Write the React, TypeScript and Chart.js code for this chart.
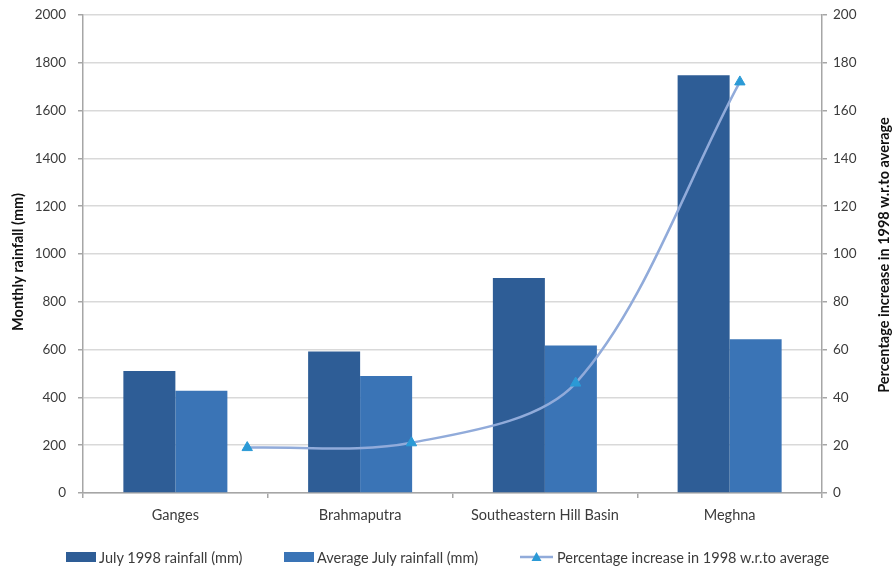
import React, { useEffect, useRef } from "react";
import { Chart, registerables } from "chart.js";

Chart.register(...registerables);

// River basins and their July rainfall figures
const basins = ["Ganges", "Brahmaputra", "Southeastern Hill Basin", "Meghna"];
const july1998 = [510, 592, 900, 1748];
const averageJuly = [428, 490, 617, 643];
const pctIncrease = [19, 21, 46, 172];

// Positions of the percentage series along its own horizontal scale
const linePositions = [1, 2, 3, 4];
const lineScaleMax = 4.5;

const seriesNames = [
  "July 1998 rainfall (mm)",
  "Average July rainfall (mm)",
  "Percentage increase in 1998 w.r.to average",
];
const leftTitle = "Monthly rainfall (mm)";
const rightTitle = "Percentage increase in 1998 w.r.to average";

const WIDTH = 893;
const HEIGHT = 567;
const FONT = "Lato, 'Open Sans', sans-serif";
const DARK_BAR = "#2E5D96";
const LIGHT_BAR = "#3A74B6";
const LINE_COLOR = "#91ABDA";
const MARKER_COLOR = "#2B9AD6";
const AXIS_COLOR = "#A6A6A6";
const GRID_COLOR = "#D9D9D9";
const TEXT_COLOR = "#3B3B3B";

// Draws the two rotated axis titles
const axisTitlesPlugin = {
  id: "axisTitles",
  afterDraw(chart: Chart) {
    const ctx = chart.ctx;
    ctx.save();
    ctx.fillStyle = "#111";
    ctx.font = `bold 14.5px ${FONT}`;
    ctx.textAlign = "center";
    ctx.textBaseline = "middle";
    ctx.save();
    ctx.translate(18, 262);
    ctx.rotate(-Math.PI / 2);
    ctx.fillText(leftTitle, 0, 0);
    ctx.restore();
    ctx.save();
    ctx.translate(884, 255);
    ctx.rotate(-Math.PI / 2);
    ctx.fillText(rightTitle, 0, 0);
    ctx.restore();
    ctx.restore();
  },
};

function LegendItem({ left, kind, color, text }: { left: number; kind: string; color: string; text: string }) {
  return (
    <div
      style={{
        position: "absolute",
        left,
        top: 548,
        height: 18,
        display: "flex",
        alignItems: "center",
        fontFamily: FONT,
        fontSize: 14.5,
        color: TEXT_COLOR,
        whiteSpace: "nowrap",
      }}
    >
      {kind === "bar" ? (
        <span style={{ display: "inline-block", width: 30, height: 10, background: color, marginRight: 3 }} />
      ) : (
        <svg width={33} height={12} style={{ marginRight: 4 }}>
          <line x1={0} y1={6} x2={33} y2={6} stroke={LINE_COLOR} strokeWidth={2.5} />
          <polygon points="16.5,1 21.5,10 11.5,10" fill={MARKER_COLOR} />
        </svg>
      )}
      <span>{text}</span>
    </div>
  );
}

const layerStyle: React.CSSProperties = { position: "absolute", left: 0, top: 0, display: "block" };

export default function App() {
  const barRef = useRef<HTMLCanvasElement | null>(null);
  const lineRef = useRef<HTMLCanvasElement | null>(null);

  useEffect(() => {
    if (!barRef.current || !lineRef.current) return;
    Chart.defaults.font.family = FONT;
    const plainNumber = (v: string | number) => String(v);
    // Value axes get a fixed width and no extra room for their end labels
    const fixWidth = (w: number) => (scale: any) => {
      scale.width = w;
      scale.paddingTop = 0;
      scale.paddingBottom = 0;
    };

    // Grouped bars with both value axes
    const barChart = new Chart(barRef.current, {
      type: "bar",
      data: {
        labels: basins,
        datasets: [
          { label: seriesNames[0], data: july1998, backgroundColor: DARK_BAR, barPercentage: 1, categoryPercentage: 0.563 },
          { label: seriesNames[1], data: averageJuly, backgroundColor: LIGHT_BAR, barPercentage: 1, categoryPercentage: 0.563 },
        ],
      },
      options: {
        responsive: false,
        animation: false,
        events: [],
        layout: { padding: { top: 15, left: 0, right: 0, bottom: 0 } },
        plugins: { legend: { display: false }, tooltip: { enabled: false } },
        scales: {
          x: {
            grid: { drawOnChartArea: false, drawTicks: true, tickLength: 5, tickColor: AXIS_COLOR, lineWidth: 1.5 },
            border: { color: AXIS_COLOR, width: 1.5 },
            ticks: { color: TEXT_COLOR, font: { size: 14.5 }, padding: 9, maxRotation: 0 },
            afterFit(scale: any) {
              scale.height = 74;
            },
          },
          y: {
            position: "left",
            min: 0,
            max: 2000,
            ticks: { stepSize: 200, color: TEXT_COLOR, font: { size: 13.5 }, padding: 12, callback: plainNumber },
            grid: { color: GRID_COLOR, lineWidth: 1.5, tickLength: 5, tickColor: AXIS_COLOR },
            border: { color: AXIS_COLOR, width: 1.5 },
            afterFit: fixWidth(83),
          },
          y1: {
            position: "right",
            min: 0,
            max: 200,
            ticks: { stepSize: 20, color: TEXT_COLOR, font: { size: 13.5 }, padding: 6, callback: plainNumber },
            grid: { drawOnChartArea: false, lineWidth: 1.5, tickLength: 5, tickColor: AXIS_COLOR },
            border: { color: AXIS_COLOR, width: 1.5 },
            afterFit: fixWidth(71),
          },
        },
      },
      plugins: [axisTitlesPlugin],
    });

    // Percentage line on its own layer, sharing the bar chart's plot area
    const area = barChart.chartArea;
    const lineChart = new Chart(lineRef.current, {
      type: "line",
      data: {
        datasets: [
          {
            label: seriesNames[2],
            data: pctIncrease.map((v, i) => ({ x: linePositions[i], y: v })),
            borderColor: LINE_COLOR,
            borderWidth: 2.5,
            tension: 0.32,
            fill: false,
            pointStyle: "triangle",
            pointRadius: 6,
            pointBackgroundColor: MARKER_COLOR,
            pointBorderColor: MARKER_COLOR,
            pointBorderWidth: 1,
            clip: false,
          } as any,
        ],
      },
      options: {
        responsive: false,
        animation: false,
        events: [],
        layout: {
          padding: { left: area.left, top: area.top, right: WIDTH - area.right, bottom: HEIGHT - area.bottom },
        },
        plugins: { legend: { display: false }, tooltip: { enabled: false } },
        scales: {
          x: { type: "linear", display: false, min: 0, max: lineScaleMax, bounds: "data", offset: false },
          y: { type: "linear", display: false, min: 0, max: 200 },
        },
      },
    });

    return () => {
      lineChart.destroy();
      barChart.destroy();
    };
  }, []);

  return (
    <div style={{ position: "absolute", left: 0, top: 0, width: WIDTH, height: HEIGHT, background: "#fff" }}>
      <canvas ref={barRef} width={WIDTH} height={HEIGHT} style={layerStyle} />
      <canvas ref={lineRef} width={WIDTH} height={HEIGHT} style={layerStyle} />
      <LegendItem left={66} kind="bar" color={DARK_BAR} text={seriesNames[0]} />
      <LegendItem left={284} kind="bar" color={LIGHT_BAR} text={seriesNames[1]} />
      <LegendItem left={520} kind="line" color={LINE_COLOR} text={seriesNames[2]} />
    </div>
  );
}
